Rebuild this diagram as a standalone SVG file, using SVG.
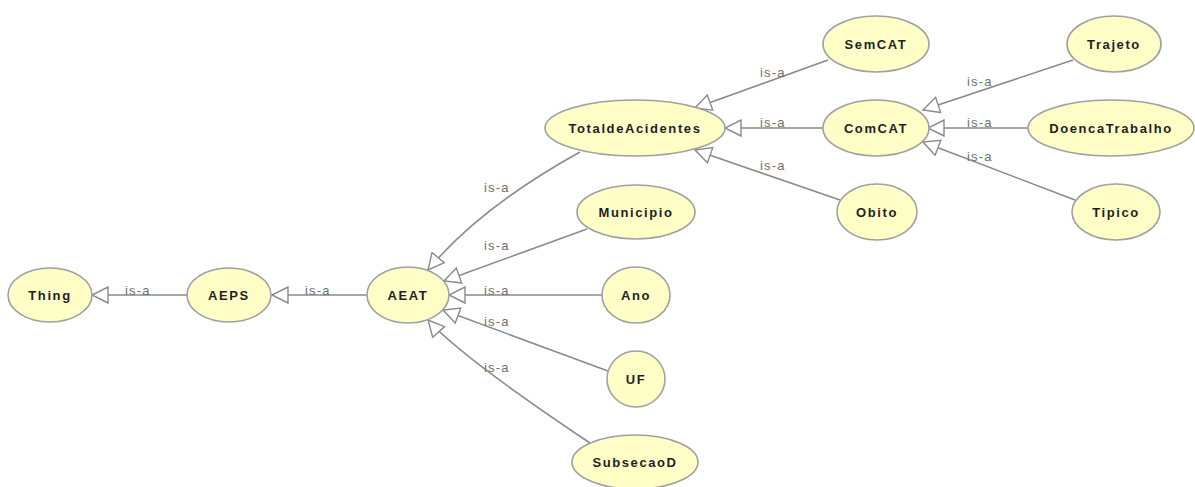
<svg xmlns="http://www.w3.org/2000/svg" width="1195" height="487" viewBox="0 0 1195 487">
<style>
.n ellipse{fill:#fefec6;stroke:#a0a0a0;stroke-width:1.6}
.n text{font-family:"Liberation Sans",Arial,sans-serif;font-size:13px;font-weight:bold;fill:#1e1e1e;text-anchor:middle;letter-spacing:1.6px}
.e path{fill:none;stroke:#8a8a8a;stroke-width:1.6;marker-end:url(#tri)}
.e text{font-family:"Liberation Sans",Arial,sans-serif;font-size:13px;fill:#707070;letter-spacing:1.2px}
</style>
<defs>
<marker id="tri" markerUnits="userSpaceOnUse" markerWidth="18" markerHeight="18" refX="16" refY="8" orient="auto" viewBox="-1 -1 18 18">
<path d="M0,0 L16,8 L0,16 Z" fill="#ffffff" stroke="#8a8a8a" stroke-width="1.4"/>
</marker>
</defs>
<rect width="1195" height="487" fill="#ffffff"/>
<g id="connectors" class="e">
<path d="M187,295 L92,295"/><text x="125" y="295">is-a</text>
<path d="M367,295 L272,295"/><text x="305" y="295">is-a</text>
<path d="M602,295 L449,295"/><text x="484" y="295">is-a</text>
<path d="M587,229 L444,281"/><text x="484" y="250">is-a</text>
<path d="M608,371 L443,310"/><text x="484" y="326">is-a</text>
<path d="M580,152 Q479,208 428,270"/><text x="484" y="192">is-a</text>
<path d="M590,443 Q460,356 428,320"/><text x="484" y="372">is-a</text>
<path d="M828,60 L695,108"/><text x="760" y="77">is-a</text>
<path d="M823,128 L725,128"/><text x="760" y="127">is-a</text>
<path d="M840,200 L695,150"/><text x="760" y="170">is-a</text>
<path d="M1073,60 L923,110"/><text x="967" y="86">is-a</text>
<path d="M1028,128 L928,128"/><text x="967" y="127">is-a</text>
<path d="M1075,200 L923,142"/><text x="967" y="161">is-a</text>
</g>
<g id="Thing" class="n"><ellipse cx="50" cy="295" rx="42" ry="27"/><text x="50" y="300">Thing</text></g>
<g id="AEPS" class="n"><ellipse cx="229" cy="295" rx="42" ry="27"/><text x="229" y="300">AEPS</text></g>
<g id="AEAT" class="n"><ellipse cx="408" cy="295" rx="41" ry="28"/><text x="408" y="300">AEAT</text></g>
<g id="Ano" class="n"><ellipse cx="636" cy="295" rx="34" ry="28"/><text x="636" y="300">Ano</text></g>
<g id="UF" class="n"><ellipse cx="636" cy="379" rx="29" ry="28"/><text x="636" y="384">UF</text></g>
<g id="Municipio" class="n"><ellipse cx="636" cy="212" rx="59" ry="27"/><text x="636" y="217">Municipio</text></g>
<g id="SubsecaoD" class="n"><ellipse cx="635" cy="462" rx="63" ry="27"/><text x="635" y="467">SubsecaoD</text></g>
<g id="TotaldeAcidentes" class="n"><ellipse cx="635" cy="128" rx="90" ry="28"/><text x="635" y="133">TotaldeAcidentes</text></g>
<g id="SemCAT" class="n"><ellipse cx="876" cy="44" rx="53" ry="28"/><text x="876" y="49">SemCAT</text></g>
<g id="ComCAT" class="n"><ellipse cx="876" cy="128" rx="53" ry="28"/><text x="876" y="133">ComCAT</text></g>
<g id="Obito" class="n"><ellipse cx="877" cy="212" rx="40" ry="28"/><text x="877" y="217">Obito</text></g>
<g id="Trajeto" class="n"><ellipse cx="1114" cy="44" rx="47" ry="28"/><text x="1114" y="49">Trajeto</text></g>
<g id="DoencaTrabalho" class="n"><ellipse cx="1111" cy="128" rx="83" ry="28"/><text x="1111" y="133">DoencaTrabalho</text></g>
<g id="Tipico" class="n"><ellipse cx="1116" cy="212" rx="44" ry="28"/><text x="1116" y="217">Tipico</text></g>
</svg>
